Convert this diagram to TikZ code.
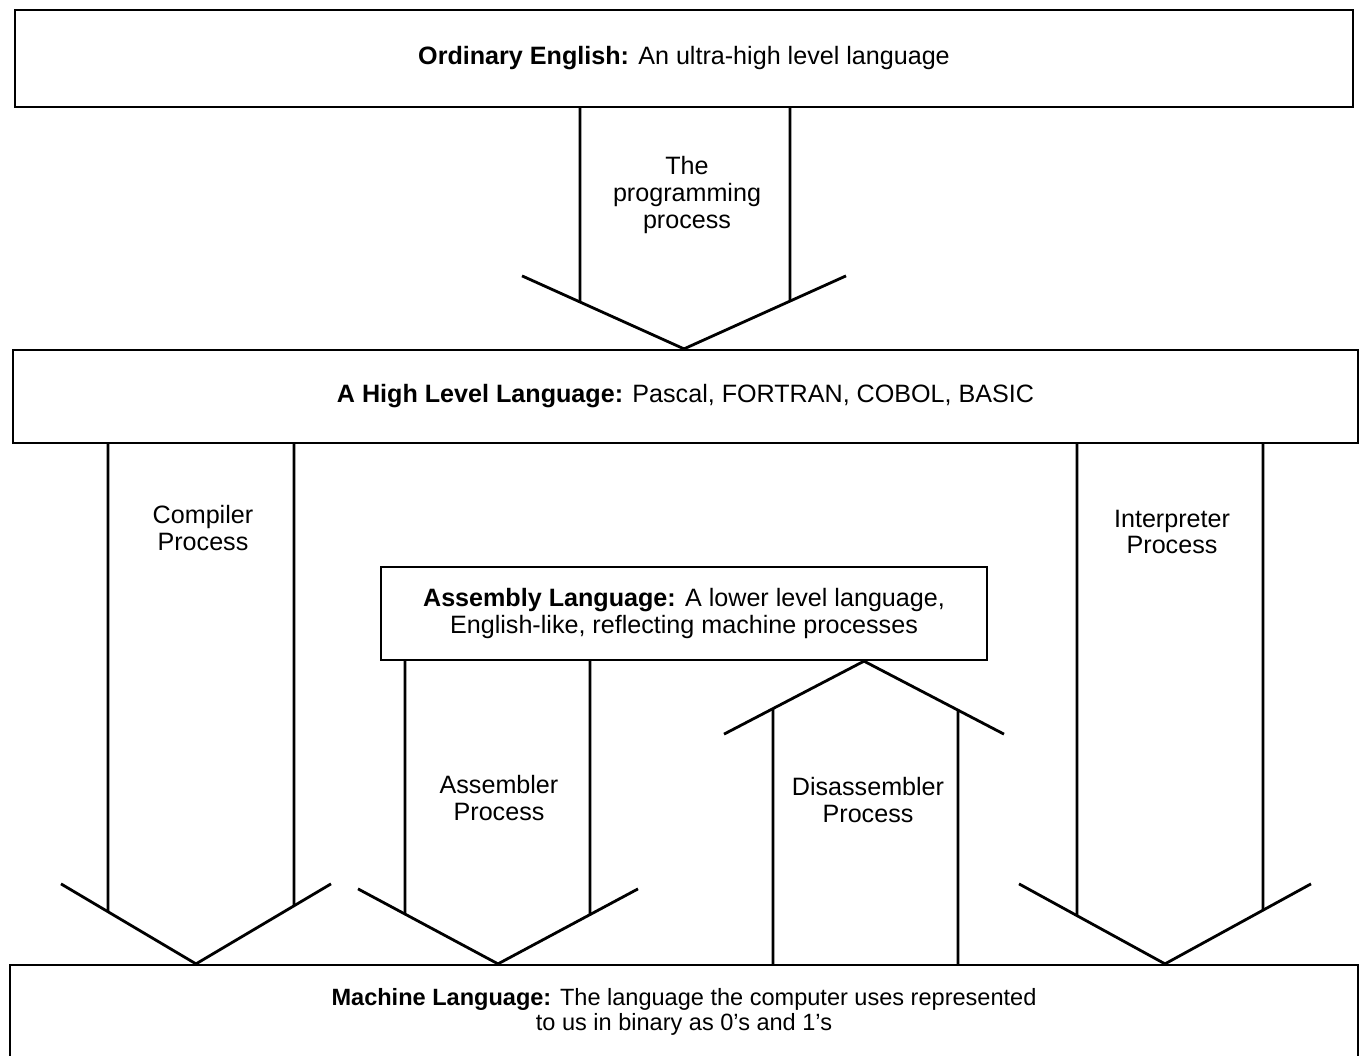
\documentclass[tikz,border=0pt]{standalone}
\usepackage{fontspec}
\setmainfont{Liberation Sans}
\usetikzlibrary{calc}

\tikzset{
    lang/.style={draw, line width=1.3pt, rectangle, align=center, inner sep=0pt},
    proc/.style={align=center},
    fat/.style={line width=1.6pt}
}

\begin{document}
\begin{tikzpicture}[x=0.02cm, y=-0.02cm,
    every node/.style={font=\fontsize{14.3}{15.2}\selectfont}
]
\useasboundingbox (0,0) rectangle (1364,1055);
% Niveluri de limbaj
\node[lang, minimum width=26.76cm, minimum height=1.94cm] (eng) at (684,58.5)
    {\textbf{Ordinary English:} An ultra-high level language};
\node[lang, minimum width=26.9cm, minimum height=1.86cm] (high) at (685.5,396.5)
    {\textbf{A High Level Language:} Pascal, FORTRAN, COBOL, BASIC};
\node[lang, minimum width=12.12cm, minimum height=1.86cm] (asm) at (684,613.5)
    {\textbf{Assembly Language:} A lower level language,\\English-like, reflecting machine processes};
\node[lang, minimum width=26.96cm, minimum height=1.86cm, font=\fontsize{13.4}{14.2}\selectfont] (mach) at (684,1011.5)
    {\textbf{Machine Language:} The language the computer uses represented\\to us in binary as 0's and 1's};
% Sageti in jos
\foreach \xl/\xr/\xt/\w/\h/\src/\dst in {580/790/684/162/73/eng/high, 108/294/196/135/80/high/mach,
    1077/1263/1165/146/80/high/mach, 405/590/498/140/75/asm/mach} {
    \coordinate (T) at (\xt,0 |- \dst.north);
    \coordinate (L) at ($(T)+(-\w,-\h)$);
    \coordinate (R) at ($(T)+(\w,-\h)$);
    \draw[fat] (\xl,0 |- \src.south) -- ($(T)!{(\xt-\xl)/\w}!(L)$);
    \draw[fat] (\xr,0 |- \src.south) -- ($(T)!{(\xr-\xt)/\w}!(R)$);
    \draw[fat] (L) -- (T) -- (R);
}
% Sageata in sus
\coordinate (T) at (864,0 |- asm.south);
\coordinate (L) at ($(T)+(-140,73)$);
\coordinate (R) at ($(T)+(140,73)$);
\draw[fat] (773,0 |- mach.north) -- ($(T)!{(864-773)/140}!(L)$);
\draw[fat] (958,0 |- mach.north) -- ($(T)!{(958-864)/140}!(R)$);
\draw[fat] (L) -- (T) -- (R);
% Procese
\node[proc] (prog) at (687,195) {The\\programming\\process};
\node[proc] (comp) at (203,528) {Compiler\\Process};
\node[proc] (interp) at (1172,532) {Interpreter\\Process};
\node[proc] (assem) at (499,798) {Assembler\\Process};
\node[proc] (disasm) at (868,800) {Disassembler\\Process};
\end{tikzpicture}
\end{document}
